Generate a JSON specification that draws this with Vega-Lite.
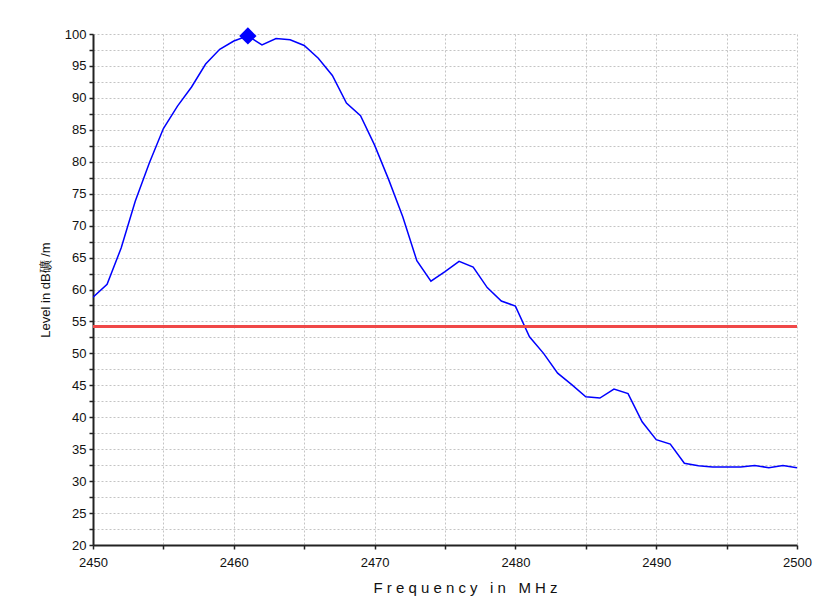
{
  "$schema": "https://vega.github.io/schema/vega-lite/v6.json",
  "width": 704,
  "height": 511,
  "autosize": {"type": "none"},
  "padding": {"left": 93, "top": 34, "right": 24, "bottom": 56},
  "background": "white",
  "config": {
    "view": {"stroke": null},
    "font": "Liberation Sans",
    "axis": {
      "labelFont": "Liberation Sans",
      "titleFont": "Liberation Sans",
      "labelColor": "#111111",
      "titleColor": "#111111",
      "labelFontSize": 13,
      "labelOverlap": false,
      "labelFlush": false,
      "domainColor": "#222222",
      "domainWidth": 2,
      "tickColor": "#222222",
      "tickWidth": 1.5,
      "tickSize": 4,
      "gridColor": "#c4c4c4",
      "gridDash": [2, 2],
      "gridWidth": 1,
      "titleFontWeight": "normal"
    }
  },
  "encoding": {
    "y": {
      "field": "v", "type": "quantitative",
      "scale": {"domain": [20, 100], "nice": false, "zero": false},
      "axis": {
        "title": "Level in dB礦 /m",
        "titleFontSize": 13,
        "titlePadding": 12,
        "values": [20, 22.5, 25, 27.5, 30, 32.5, 35, 37.5, 40, 42.5, 45, 47.5, 50, 52.5, 55, 57.5, 60, 62.5, 65, 67.5, 70, 72.5, 75, 77.5, 80, 82.5, 85, 87.5, 90, 92.5, 95, 97.5, 100],
        "labelExpr": "datum.value % 5 == 0 ? datum.label : ''",
        "labelPadding": 3,
        "grid": true
      }
    }
  },
  "layer": [
    {
      "data": {"values": [
        {"f": 2450, "v": 58.8}, {"f": 2451, "v": 60.8}, {"f": 2452, "v": 66.5}, {"f": 2453, "v": 73.8},
        {"f": 2454, "v": 79.8}, {"f": 2455, "v": 85.2}, {"f": 2456, "v": 88.7}, {"f": 2457, "v": 91.7},
        {"f": 2458, "v": 95.3}, {"f": 2459, "v": 97.6}, {"f": 2460, "v": 98.9}, {"f": 2461, "v": 99.7},
        {"f": 2462, "v": 98.3}, {"f": 2463, "v": 99.3}, {"f": 2464, "v": 99.1}, {"f": 2465, "v": 98.2},
        {"f": 2466, "v": 96.2}, {"f": 2467, "v": 93.5}, {"f": 2468, "v": 89.2}, {"f": 2469, "v": 87.2},
        {"f": 2470, "v": 82.6}, {"f": 2471, "v": 77.2}, {"f": 2472, "v": 71.4}, {"f": 2473, "v": 64.5},
        {"f": 2474, "v": 61.3}, {"f": 2475, "v": 62.8}, {"f": 2476, "v": 64.4}, {"f": 2477, "v": 63.5},
        {"f": 2478, "v": 60.3}, {"f": 2479, "v": 58.2}, {"f": 2480, "v": 57.4}, {"f": 2481, "v": 52.6},
        {"f": 2482, "v": 50.0}, {"f": 2483, "v": 46.9}, {"f": 2484, "v": 45.1}, {"f": 2485, "v": 43.2},
        {"f": 2486, "v": 43.0}, {"f": 2487, "v": 44.4}, {"f": 2488, "v": 43.7}, {"f": 2489, "v": 39.3},
        {"f": 2490, "v": 36.5}, {"f": 2491, "v": 35.8}, {"f": 2492, "v": 32.8}, {"f": 2493, "v": 32.4},
        {"f": 2494, "v": 32.2}, {"f": 2495, "v": 32.2}, {"f": 2496, "v": 32.2}, {"f": 2497, "v": 32.45},
        {"f": 2498, "v": 32.1}, {"f": 2499, "v": 32.45}, {"f": 2500, "v": 32.1}
      ]},
      "mark": {"type": "line", "color": "#0000ff", "strokeWidth": 1.5, "clip": true},
      "encoding": {
        "x": {
          "field": "f", "type": "quantitative",
          "scale": {"domain": [2450, 2500], "nice": false, "zero": false},
          "axis": {
            "title": "F r e q u e n c y\u00a0\u00a0 i n\u00a0\u00a0 M H z",
            "titleFontSize": 15,
            "titlePadding": 11,
            "titleX": 372,
            "values": [2450, 2455, 2460, 2465, 2470, 2475, 2480, 2485, 2490, 2495, 2500],
            "format": "d",
            "labelExpr": "datum.value % 10 == 0 ? datum.label : ''",
            "labelPadding": 7,
            "grid": true
          }
        }
      }
    },
    {
      "data": {"values": [{"v": 54.2}]},
      "mark": {"type": "rule", "color": "#f04848", "strokeWidth": 3},
      "encoding": {}
    },
    {
      "data": {"values": [{"f": 2461, "v": 99.7}]},
      "mark": {"type": "point", "shape": "diamond", "filled": true, "color": "#0000ff", "size": 300, "opacity": 1},
      "encoding": {
        "x": {"field": "f", "type": "quantitative"}
      }
    }
  ]
}
